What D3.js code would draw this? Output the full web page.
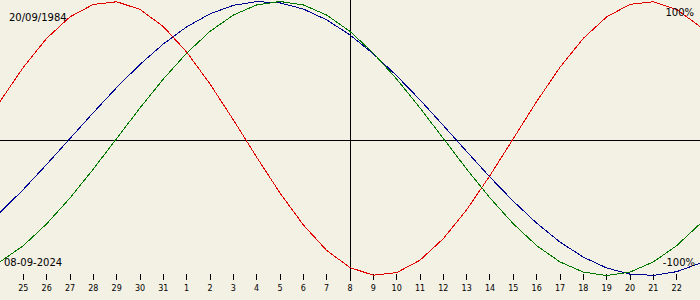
<!DOCTYPE html>
<html>
<head>
<meta charset="utf-8">
<script src="https://cdn.jsdelivr.net/npm/d3@7"></script>
<style>
  html, body { margin: 0; padding: 0; background: #f3f0e4; }
  svg { display: block; }
</style>
</head>
<body>
<div id="chart"></div>
<script>
// one value per day, 24 Aug .. 23 Sep (centre day 8 Sep)
var physical = [0.270, 0.520, 0.731, 0.888, 0.979, 0.998, 0.942, 0.817, 0.631, 0.398, 0.136, -0.136, -0.398, -0.631, -0.817, -0.942, -0.998, -0.979, -0.888, -0.731, -0.520, -0.270, 0, 0.270, 0.520, 0.731, 0.888, 0.979, 0.998, 0.942, 0.817];
var emotional = [-0.901, -0.782, -0.623, -0.434, -0.223, 0, 0.223, 0.434, 0.623, 0.782, 0.901, 0.975, 1, 0.975, 0.901, 0.782, 0.623, 0.434, 0.223, 0, -0.223, -0.434, -0.623, -0.782, -0.901, -0.975, -1, -0.975, -0.901, -0.782, -0.623];
var intellectual = [-0.541, -0.372, -0.189, 0, 0.189, 0.372, 0.541, 0.690, 0.815, 0.910, 0.972, 0.999, 0.990, 0.945, 0.866, 0.756, 0.618, 0.458, 0.282, 0.095, -0.095, -0.282, -0.458, -0.618, -0.756, -0.866, -0.945, -0.990, -0.999, -0.972, -0.910];

// day-of-month labels for the ticks (index 1..29)
var tickLabels = ["25", "26", "27", "28", "29", "30", "31", "1", "2", "3", "4", "5", "6", "7", "8", "9", "10", "11", "12", "13", "14", "15", "16", "17", "18", "19", "20", "21", "22"];

var birthLabel = "20/09/1984";
var todayLabel = "08-09-2024";

var width = 700, height = 300;

var svg = d3.select("#chart")
    .append("svg")
    .attr("width", width)
    .attr("height", height);

svg.append("rect")
    .attr("width", width)
    .attr("height", height)
    .attr("fill", "#f3f0e4");

var x = d3.scaleLinear()
    .domain([0, physical.length - 1])
    .range([0, width]);

var y = d3.scaleLinear()
    .domain([-1, 1])
    .range([275.5, 1.5]);

// cross lines
svg.append("line")
    .attr("x1", 0).attr("x2", width)
    .attr("y1", 140.5).attr("y2", 140.5)
    .attr("stroke", "#000")
    .attr("shape-rendering", "crispEdges");

svg.append("line")
    .attr("x1", Math.floor(x(15)) + 0.5).attr("x2", Math.floor(x(15)) + 0.5)
    .attr("y1", 0).attr("y2", 281)
    .attr("stroke", "#000")
    .attr("shape-rendering", "crispEdges");

// day ticks
var ticks = svg.append("g");
ticks.selectAll("line")
    .data(tickLabels)
    .enter()
    .append("line")
    .attr("x1", function(d, i) { return Math.floor(x(i + 1)) + 0.5; })
    .attr("x2", function(d, i) { return Math.floor(x(i + 1)) + 0.5; })
    .attr("y1", 274)
    .attr("y2", 280)
    .attr("stroke", "#000")
    .attr("shape-rendering", "crispEdges");

ticks.selectAll("text")
    .data(tickLabels)
    .enter()
    .append("text")
    .attr("x", function(d, i) { return x(i + 1); })
    .attr("y", 291)
    .attr("text-anchor", "middle")
    .attr("font-family", "DejaVu Sans")
    .attr("font-size", "8px")
    .attr("fill", "#000")
    .text(function(d) { return d; });

// the three curves
var line = d3.line()
    .x(function(d, i) { return x(i); })
    .y(function(d) { return y(d); });

var series = [
    {values: physical, color: "#e00000"},
    {values: intellectual, color: "#000090"},
    {values: emotional, color: "#007800"}
];

svg.selectAll(".curve")
    .data(series)
    .enter()
    .append("path")
    .attr("class", "curve")
    .attr("fill", "none")
    .attr("stroke", function(d) { return d.color; })
    .attr("stroke-width", 1)
    .attr("shape-rendering", "crispEdges")
    .attr("d", function(d) { return line(d.values); });

// labels
function label(txt, lx, ly, anchor) {
    svg.append("text")
        .attr("x", lx)
        .attr("y", ly)
        .attr("text-anchor", anchor)
        .attr("font-family", "DejaVu Sans")
        .attr("font-size", "10px")
        .attr("fill", "#000")
        .text(txt);
}
label(birthLabel, 9, 21, "start");
label(todayLabel, 4, 266, "start");
label("100%", 694, 16, "end");
label("-100%", 695, 266, "end");
</script>
</body>
</html>
